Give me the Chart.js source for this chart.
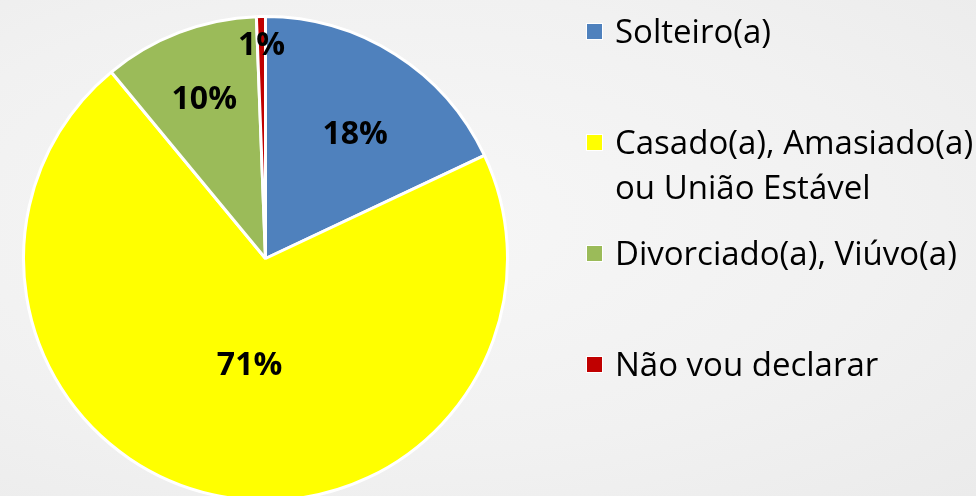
<!DOCTYPE html>
<html lang="pt-BR">
<head>
<meta charset="utf-8">
<title>Estado civil</title>
<script src="https://cdn.jsdelivr.net/npm/chart.js@4.4.1/dist/chart.umd.min.js"></script>
<style>
  html, body {
    margin: 0;
    padding: 0;
    width: 976px;
    height: 496px;
    overflow: hidden;
    background: radial-gradient(ellipse at 40% 45%, #f7f7f7 0%, #f1f1f1 60%, #ebebeb 100%);
  }
  #wrap {
    position: absolute;
    left: 0;
    top: 0;
    width: 976px;
    height: 496px;
  }
</style>
</head>
<body>
<div id="wrap"><canvas id="pieChart" width="976" height="496"></canvas></div>
<script>
// Dados do gráfico
const categorias = [
  "Solteiro(a)",
  ["Casado(a), Amasiado(a)", "ou União Estável"],
  "Divorciado(a), Viúvo(a)",
  "Não vou declarar",
];
// valores estimados pela largura das fatias (o rótulo mostra o arredondado)
const percentuais = [18.0, 71.0, 10.4, 0.6];
const cores = ["#4f81bd", "#ffff00", "#9bbb59", "#c00000"];

// Posição dos rótulos: fração do raio e ajuste de ângulo (graus)
const posRotulos = [
  { r: 0.64, da: 3 },
  { r: 0.44, da: -4 },
  { r: 0.71, da: 0 },
  { r: 0.89, da: 0 },
];

const fonteTexto = "'Open Sans', 'Noto Sans', sans-serif";

// Rótulos de porcentagem dentro das fatias
const rotulosPlugin = {
  id: "rotulos",
  afterDatasetsDraw(chart) {
    const ctx = chart.ctx;
    const meta = chart.getDatasetMeta(0);
    const size = 32;
    ctx.save();
    ctx.font = "bold " + size + "px " + fonteTexto;
    ctx.fillStyle = "#000";
    ctx.textAlign = "center";
    ctx.textBaseline = "alphabetic";
    meta.data.forEach((arc, i) => {
      const p = arc.getProps(["x", "y", "startAngle", "endAngle", "outerRadius"], true);
      const pos = posRotulos[i];
      const mid = (p.startAngle + p.endAngle) / 2 + (pos.da * Math.PI) / 180;
      const r = p.outerRadius * pos.r;
      const tx = p.x + Math.cos(mid) * r;
      const ty = p.y + Math.sin(mid) * r;
      ctx.fillText(Math.round(percentuais[i]) + "%", tx, ty + size * 0.714 / 2);
    });
    ctx.restore();
  },
};

// Legenda à direita
const legendaPlugin = {
  id: "legenda",
  afterDraw(chart) {
    const ctx = chart.ctx;
    const size = 33;
    const x0 = 586;
    const textX = 615;
    const base0 = 43;
    const passo = 111;
    const linha = 45;
    ctx.save();
    ctx.font = size + "px " + fonteTexto;
    ctx.textAlign = "left";
    ctx.textBaseline = "alphabetic";
    chart.data.labels.forEach((label, i) => {
      const base = base0 + i * passo;
      const cy = base - 11.5;
      ctx.fillStyle = "#ffffff";
      ctx.fillRect(x0, cy - 8.5, 17, 17);
      ctx.fillStyle = cores[i];
      ctx.fillRect(x0 + 1, cy - 7.5, 15, 15);
      ctx.fillStyle = "#000";
      const linhas = Array.isArray(label) ? label : [label];
      linhas.forEach((t, j) => ctx.fillText(t, textX, base + j * linha));
    });
    ctx.restore();
  },
};

new Chart(document.getElementById("pieChart"), {
  type: "pie",
  data: {
    labels: categorias,
    datasets: [
      {
        data: percentuais,
        backgroundColor: cores,
        borderColor: "#ffffff",
        borderWidth: 3,
        clip: false,
      },
    ],
  },
  options: {
    responsive: false,
    animation: false,
    radius: 242,
    layout: {
      padding: { top: 21, right: 445, left: 0, bottom: 0 },
    },
    plugins: {
      legend: { display: false },
      tooltip: { enabled: false },
    },
  },
  plugins: [rotulosPlugin, legendaPlugin],
});
</script>
</body>
</html>
